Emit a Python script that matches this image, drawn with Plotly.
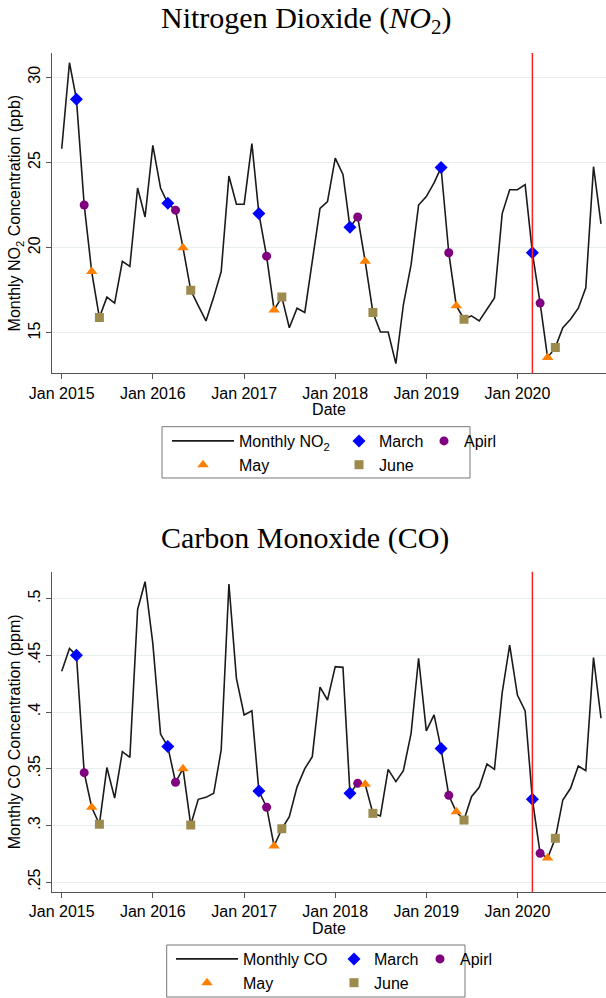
import plotly.graph_objects as go
import pandas as pd

# ---------------- data ----------------
months = pd.date_range("2015-01-01", "2020-12-01", freq="MS")

no2_values = [
    25.8, 30.85, 28.7, 22.5, 18.6, 15.9, 17.1, 16.75, 19.2, 18.9, 23.5, 21.8,
    26.0, 23.5, 22.6, 22.2, 20.0, 17.5, 16.6, 15.7, 17.1, 18.6, 24.2, 22.55,
    22.55, 26.1, 22.0, 19.5, 16.35, 17.1, 15.3, 16.45, 16.2, 19.1, 22.3, 22.7,
    25.25, 24.3, 21.2, 21.8, 19.2, 16.2, 15.05, 15.05, 13.2, 16.65, 19.0, 22.5,
    23.0, 23.8, 24.7, 19.7, 16.6, 15.8, 16.0, 15.7, 16.35, 17.05, 22.0, 23.4,
    23.4, 23.7, 19.7, 16.75, 13.55, 14.15, 15.3, 15.8, 16.45, 17.65, 24.75, 21.4,
]

co_values = [
    0.436, 0.456, 0.450, 0.3465, 0.316, 0.301, 0.351, 0.324, 0.365, 0.360, 0.4905, 0.515,
    0.4605, 0.3805, 0.3695, 0.338, 0.350, 0.3003, 0.323, 0.3247, 0.3283, 0.3665, 0.513, 0.4297,
    0.3974, 0.401, 0.3303, 0.316, 0.2818, 0.297, 0.3077, 0.334, 0.350, 0.3606, 0.422, 0.4106,
    0.440, 0.4394, 0.3283, 0.3371, 0.3362, 0.3106, 0.3083, 0.3494, 0.3386, 0.3483, 0.3812, 0.4474,
    0.3833, 0.3974, 0.3677, 0.3265, 0.312, 0.3047, 0.3253, 0.3336, 0.3541, 0.3494, 0.4171, 0.4591,
    0.4150, 0.4009, 0.323, 0.2753, 0.2712, 0.2886, 0.3224, 0.3327, 0.3524, 0.3483, 0.448, 0.3945,
]

marker_months = [3, 4, 5, 6]
marker_names = ["March", "Apirl", "May", "June"]
marker_symbols = ["diamond", "circle", "triangle-up", "square"]
marker_colors = ["#0000ff", "#800080", "#ff7f00", "#9d8a4d"]
marker_sizes = [10, 9, 10, 9]

no2_ticks = [15, 20, 25, 30]
no2_ticktext = ["15", "20", "25", "30"]
co_ticks = [0.25, 0.30, 0.35, 0.40, 0.45, 0.50]
co_ticktext = [".25", ".3", ".35", ".4", ".45", ".5"]

covid_line = "2020-03-01"

df = pd.DataFrame({"date": months, "no2": no2_values, "co": co_values})
df["month"] = df["date"].dt.month

FONT = "Liberation Sans, Arial, sans-serif"
SERIF = "Liberation Serif, Times New Roman, serif"

fig = go.Figure()

panels = [
    dict(col="no2", xa="x", ya="y", line_name="Monthly NO<sub>2</sub>",
         legs=["legend", "legend2", "legend3"]),
    dict(col="co", xa="x2", ya="y2", line_name="Monthly CO",
         legs=["legend4", "legend5", "legend6"]),
]

# legend assignment per marker: A (line col), B, C
marker_leg_idx = [1, 2, 0, 1]

for p in panels:
    fig.add_trace(go.Scatter(
        x=df["date"], y=df[p["col"]], mode="lines", name=p["line_name"],
        line=dict(color="#1a1a1a", width=1.6),
        xaxis=p["xa"], yaxis=p["ya"], legend=p["legs"][0],
    ))
    for m, nm, sym, colr, sz, li in zip(marker_months, marker_names, marker_symbols,
                                        marker_colors, marker_sizes, marker_leg_idx):
        sub = df[df["month"] == m]
        fig.add_trace(go.Scatter(
            x=sub["date"], y=sub[p["col"]], mode="markers", name=nm,
            marker=dict(symbol=sym, color=colr, size=sz, line=dict(width=0)),
            xaxis=p["xa"], yaxis=p["ya"], legend=p["legs"][li],
        ))

W, H = 606, 998
L = 52
PW = W - L

def px_x(x):
    return (x - L) / PW

def px_y(y):
    return 1 - y / H

axis_common = dict(
    showline=True, linecolor="#555555", linewidth=1,
    ticks="outside", ticklen=5, tickcolor="#555555",
    tickfont=dict(family=FONT, size=16, color="#000000"),
    zeroline=False,
)

xrange = ["2014-11-23", "2020-12-21"]

fig.update_layout(
    width=W, height=H,
    margin=dict(l=L, r=0, t=0, b=0, autoexpand=False),
    paper_bgcolor="white", plot_bgcolor="white",
    font=dict(family=FONT, size=16, color="#000000"),
    showlegend=True,
    xaxis=dict(**axis_common, domain=[0, 1], anchor="y", range=xrange,
               tick0="2015-01-01", dtick="M12", tickformat="%b %Y", showgrid=False,
               title=dict(text="Date", font=dict(size=16), standoff=2)),
    yaxis=dict(**axis_common, domain=[px_y(373.3), px_y(53)], anchor="x",
               range=[12.63, 31.42], tickvals=no2_ticks, ticktext=no2_ticktext,
               tickangle=-90, showgrid=True, gridcolor="#e6eef0", gridwidth=1,
               title=dict(text="Monthly NO<sub>2</sub> Concentration (ppb)",
                          font=dict(size=16), standoff=0)),
    xaxis2=dict(**axis_common, domain=[0, 1], anchor="y2", range=xrange,
                tick0="2015-01-01", dtick="M12", tickformat="%b %Y", showgrid=False,
                title=dict(text="Date", font=dict(size=16), standoff=2)),
    yaxis2=dict(**axis_common, domain=[px_y(892), px_y(571.7)], anchor="x2",
                range=[0.2412, 0.5238], tickvals=co_ticks, ticktext=co_ticktext,
                tickangle=-90, showgrid=True, gridcolor="#e6eef0", gridwidth=1,
                title=dict(text="Monthly CO Concentration (ppm)",
                           font=dict(size=16), standoff=0)),
)

def leg(x_px, top_px, itemwidth):
    return dict(
        orientation="v", x=px_x(x_px), y=px_y(top_px), xanchor="left", yanchor="top",
        bgcolor="rgba(0,0,0,0)", borderwidth=0, itemwidth=itemwidth,
        font=dict(family=FONT, size=16, color="#000000"), tracegroupgap=0,
        traceorder="normal",
    )

fig.update_layout(
    legend=leg(167, 424, 62),
    legend2=leg(339, 424, 30),
    legend3=leg(424, 424, 30),
    legend4=leg(171, 942, 62),
    legend5=leg(334, 942, 30),
    legend6=leg(420, 942, 30),
)

# legend border boxes
fig.add_shape(type="rect", xref="paper", yref="paper",
              x0=px_x(162), x1=px_x(470), y0=px_y(478), y1=px_y(426.7),
              line=dict(color="#777777", width=1), fillcolor="rgba(0,0,0,0)")
fig.add_shape(type="rect", xref="paper", yref="paper",
              x0=px_x(166.7), x1=px_x(465), y0=px_y(997), y1=px_y(945),
              line=dict(color="#777777", width=1), fillcolor="rgba(0,0,0,0)")

# March 2020 vertical lines
for xa, ya in [("x", "y"), ("x2", "y2")]:
    fig.add_shape(type="line", xref=xa, yref=f"{ya} domain",
                  x0=covid_line, x1=covid_line, y0=0, y1=1,
                  line=dict(color="#ff2020", width=1.5))

# titles
fig.add_annotation(text="Nitrogen Dioxide (<i>NO</i><sub>2</sub>)", xref="paper", yref="paper",
                   x=px_x(306), y=px_y(20), xanchor="center", yanchor="middle",
                   showarrow=False, font=dict(family=SERIF, size=30, color="#000000"))
fig.add_annotation(text="Carbon Monoxide (CO)", xref="paper", yref="paper",
                   x=px_x(305), y=px_y(538), xanchor="center", yanchor="middle",
                   showarrow=False, font=dict(family=SERIF, size=30, color="#000000"))

fig.write_html("out.html", config={"displayModeBar": False},
               post_script="document.body.style.margin='0';")
